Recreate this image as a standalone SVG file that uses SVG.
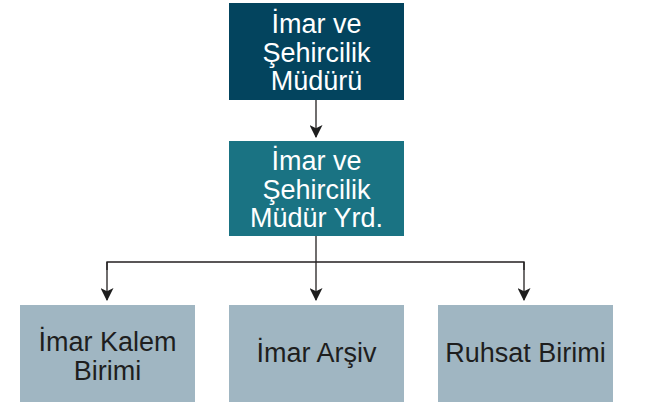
<svg xmlns="http://www.w3.org/2000/svg" width="646" height="402" viewBox="0 0 646 402">
<style>
text{font-family:"Liberation Sans",Arial,sans-serif;font-size:27px;text-anchor:middle}
.w{fill:#ffffff}
.k{fill:#1e1e1e}
.ln{stroke:#231f20;stroke-width:1.3;fill:none}
</style>
<defs>
<marker id="ah" viewBox="0 0 12 12" refX="11" refY="6" markerWidth="13" markerHeight="13" markerUnits="userSpaceOnUse" orient="auto">
<path d="M0,0 L12,6 L0,12 L3,6 Z" fill="#1e1e1e"/>
</marker>
</defs>
<rect width="646" height="402" fill="#ffffff"/>
<g id="connectors">
<line class="ln" x1="316" y1="100" x2="316" y2="137" marker-end="url(#ah)"/>
<line class="ln" x1="316" y1="236" x2="316" y2="300" marker-end="url(#ah)"/>
<polyline class="ln" points="107,270 107,262 524,262 524,270"/>
<line class="ln" x1="107" y1="262" x2="107" y2="300" marker-end="url(#ah)"/>
<line class="ln" x1="524" y1="262" x2="524" y2="300" marker-end="url(#ah)"/>
</g>
<g id="mudur">
<rect x="229" y="3" width="175" height="97" fill="#03445e"/>
<text class="w" x="316.5" y="33">İmar ve</text>
<text class="w" x="316.5" y="62">Şehircilik</text>
<text class="w" x="316.5" y="90">Müdürü</text>
</g>
<g id="yardimci">
<rect x="229" y="141" width="175" height="95" fill="#1a7383"/>
<text class="w" x="316.5" y="170">İmar ve</text>
<text class="w" x="316.5" y="199">Şehircilik</text>
<text class="w" x="316.5" y="227">Müdür Yrd.</text>
</g>
<g id="kalem">
<rect x="20" y="305" width="175" height="97" fill="#a0b6c2"/>
<text class="k" x="107.5" y="351">İmar Kalem</text>
<text class="k" x="107.5" y="380">Birimi</text>
</g>
<g id="arsiv">
<rect x="229" y="305" width="175" height="97" fill="#a0b6c2"/>
<text class="k" x="316.5" y="362">İmar Arşiv</text>
</g>
<g id="ruhsat">
<rect x="438" y="305" width="175" height="97" fill="#a0b6c2"/>
<text class="k" x="525.5" y="362">Ruhsat Birimi</text>
</g>
</svg>
